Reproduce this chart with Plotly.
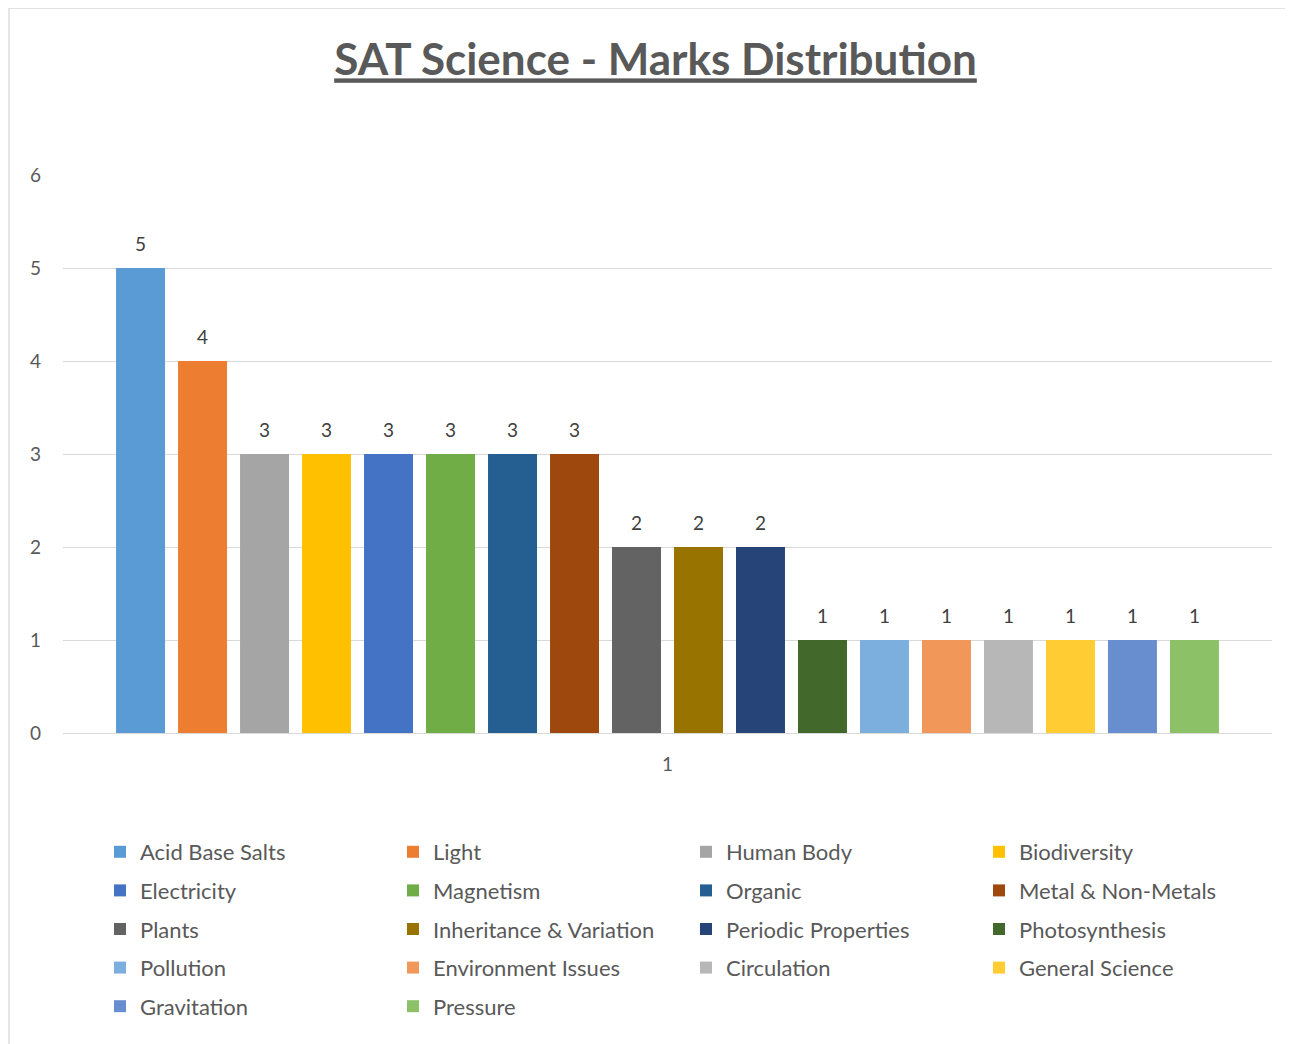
import plotly.graph_objects as go

topics = ["Acid Base Salts", "Light", "Human Body", "Biodiversity",
          "Electricity", "Magnetism", "Organic", "Metal & Non-Metals",
          "Plants", "Inheritance & Variation", "Periodic Properties", "Photosynthesis",
          "Pollution", "Environment Issues", "Circulation", "General Science",
          "Gravitation", "Pressure"]
marks = [5, 4, 3, 3, 3, 3, 3, 3, 2, 2, 2, 1, 1, 1, 1, 1, 1, 1]
category = ["1"]
colors = ["#5B9BD5", "#ED7D31", "#A5A5A5", "#FFC000",
          "#4472C4", "#70AD47", "#255E91", "#9E480E",
          "#636363", "#997300", "#264478", "#43682B",
          "#7CAFDD", "#F1975A", "#B7B7B7", "#FFCD33",
          "#698ED0", "#8CC168"]
y_ticks = [0, 1, 2, 3, 4, 5, 6]

FONT = "Lato"
GREY = "#595959"

# page body adds an 8px offset, so the figure is drawn 8px smaller
W, H = 1285, 1036
L, R, T, B = 55, 21, 167, 311
pw, ph = W - L - R, H - T - B
BARGAP, GROUPGAP = 0.077, 0.21
n = len(topics)
slot = pw * (1 - BARGAP) / n

fig = go.Figure()
legend_names = ["legend", "legend2", "legend3", "legend4"]
for i, (name, val, col) in enumerate(zip(topics, marks, colors)):
    fig.add_trace(go.Bar(
        x=category, y=[val], name=name,
        marker=dict(color=col, line=dict(width=0)),
        legend=legend_names[i % 4], legendgroup=name,
        hoverinfo="name+y",
    ))

# value labels above each bar (category index 0 = category "1")
annotations = []
for i, val in enumerate(marks):
    annotations.append(dict(
        x=0, y=val, xref="x", yref="y", text=str(val),
        showarrow=False, xshift=(i - (n - 1) / 2) * slot, yshift=25,
        yanchor="middle", font=dict(family=FONT, size=19, color="#404040"),
    ))

col_x = [92, 385, 678, 971]
legends = {}
for k, ln in enumerate(legend_names):
    legends[ln] = dict(
        orientation="v",
        x=(col_x[k] - L) / pw, xanchor="left",
        y=(H - B - (852 - 8 - 21)) / ph, yanchor="top",
        font=dict(family=FONT, size=22, color=GREY),
        bgcolor="rgba(0,0,0,0)",
        itemclick=False, tracegroupgap=7,
    )

fig.update_layout(
    width=W, height=H,
    margin=dict(l=L, r=R, t=T, b=B),
    paper_bgcolor="white", plot_bgcolor="white",
    barmode="group", bargap=BARGAP, bargroupgap=GROUPGAP,
    title=dict(text="<b><u>SAT Science - Marks Distribution</u></b>",
               x=0.5 + 5 / W, xanchor="center", y=1 - 52 / H, yanchor="middle",
               font=dict(family=FONT, size=44, color=GREY)),
    xaxis=dict(range=[-0.5, 0.5], autorange=False, fixedrange=True,
               showgrid=False, showline=False, zeroline=False,
               tickfont=dict(family=FONT, size=19, color=GREY), ticks="",
               ticklabelstandoff=18),
    yaxis=dict(range=[0, 6], autorange=False, tickvals=y_ticks, showgrid=True,
               gridcolor="#D9D9D9", gridwidth=1.3, zeroline=True,
               zerolinecolor="#D9D9D9", zerolinewidth=1.3,
               showline=False, ticks="",
               tickfont=dict(family=FONT, size=19, color=GREY), ticklabelstandoff=21),
    showlegend=True,
    annotations=annotations,
    shapes=[dict(type="rect", xref="paper", yref="paper",
                 x0=(1 - L) / pw, x1=(W + 13 - L) / pw,
                 y0=(H - B - (H + 5)) / ph, y1=(H - B - 0) / ph,
                 line=dict(color="#D9D9D9", width=1.3), fillcolor="rgba(0,0,0,0)",
                 layer="below")],
    **legends,
)

fig.write_html("out.html")
